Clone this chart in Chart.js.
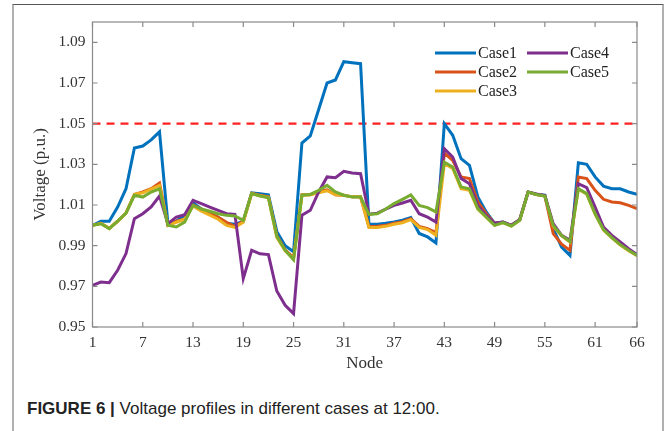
<!DOCTYPE html>
<html>
<head>
<meta charset="utf-8">
<script src="https://cdn.jsdelivr.net/npm/chart.js@4/dist/chart.umd.min.js"></script>
<style>
  html, body { margin: 0; padding: 0; background: #fff; }
  body { width: 665px; height: 431px; position: relative; overflow: hidden; }
  #frame {
    position: absolute; left: 12px; top: 4px; width: 648px; height: 440px;
    border-left: 2px solid #b0b0b0; border-right: 2px solid #b0b0b0; border-top: 1.5px solid #555;
  }
  #wrap { position: absolute; left: 0; top: 0; width: 665px; height: 385px; }
  #caption {
    position: absolute; left: 27px; top: 399px;
    font-family: "Liberation Sans", Arial, sans-serif; font-size: 17px; color: #222;
  }
  #caption b { font-weight: bold; }
</style>
</head>
<body>
<div id="frame"></div>
<div id="wrap"><canvas id="myChart" width="665" height="385"></canvas></div>
<div id="caption"><b>FIGURE 6 |</b> Voltage profiles in different cases at 12:00.</div>
<script>
// node numbers and tick positions
const nodes = Array.from({length: 66}, (_, i) => i + 1);
const xTicks = [1, 7, 13, 19, 25, 31, 37, 43, 49, 55, 61, 66];
const yTicks = [0.95, 0.97, 0.99, 1.01, 1.03, 1.05, 1.07, 1.09];
const limit = 1.05;

// voltage per node
const case1 = [1.000, 1.002, 1.002, 1.009, 1.018, 1.038, 1.039, 1.042, 1.046, 1.001,
  1.002, 1.005, 1.011, 1.008, 1.006, 1.004, 1.001, 1.0005, 1.002, 1.016,
  1.0155, 1.015, 0.997, 0.990, 0.987, 1.0405, 1.044, 1.057, 1.070, 1.0715,
  1.0805, 1.080, 1.0795, 1.0005, 1.0005, 1.001, 1.0017, 1.0025, 1.0038, 0.996,
  0.9943, 0.9913, 1.050, 1.0443, 1.0328, 1.0295, 1.014, 1.0066, 1.001, 1.0016,
  1.000, 1.0028, 1.0164, 1.0152, 1.0148, 0.9984, 0.9893, 0.9852, 1.0308, 1.030,
  1.0238, 1.0193, 1.018, 1.018, 1.0164, 1.0152];
const case2 = [1.000, 1.001, 0.9985, 1.002, 1.006, 1.0152, 1.0164, 1.018, 1.0208, 1.000,
  1.002, 1.003, 1.010, 1.008, 1.006, 1.004, 1.0015, 0.9995, 1.002, 1.0158,
  1.0148, 1.014, 0.995, 0.988, 0.984, 1.015, 1.015, 1.0165, 1.0175, 1.015,
  1.0148, 1.014, 1.014, 0.9993, 0.9995, 1.000, 1.001, 1.0018, 1.0032, 0.9995,
  0.9984, 0.9964, 1.0355, 1.032, 1.0238, 1.023, 1.0115, 1.0057, 1.001, 1.0015,
  1.000, 1.0027, 1.0164, 1.0152, 1.0145, 0.9959, 0.9907, 0.9877, 1.0238, 1.023,
  1.0172, 1.0128, 1.0115, 1.0111, 1.0098, 1.0082];
const case3 = [1.000, 1.001, 0.9985, 1.002, 1.006, 1.0152, 1.016, 1.0178, 1.0197, 1.000,
  1.0015, 1.003, 1.0095, 1.007, 1.005, 1.003, 1.000, 0.999, 1.0015, 1.0156,
  1.0145, 1.0138, 0.994, 0.9875, 0.9835, 1.0148, 1.015, 1.016, 1.017, 1.015,
  1.0148, 1.014, 1.014, 0.9989, 0.9989, 0.9995, 1.0005, 1.0013, 1.0028, 0.999,
  0.9979, 0.9951, 1.0303, 1.028, 1.018, 1.0172, 1.008, 1.004, 1.000, 1.0013,
  0.9997, 1.0025, 1.0164, 1.0152, 1.0144, 0.9995, 0.9948, 0.9918, 1.0178, 1.0153,
  1.0055, 0.9977, 0.9938, 0.9903, 0.9875, 0.985];
const case4 = [0.9705, 0.9721, 0.9718, 0.9779, 0.9861, 1.0033, 1.0057, 1.009, 1.0144, 1.0008,
  1.0041, 1.0052, 1.0123, 1.0107, 1.009, 1.0074, 1.0057, 1.0054, 0.9738, 0.9877,
  0.986, 0.9856, 0.9677, 0.9607, 0.9566, 1.005, 1.0074, 1.0164, 1.0238, 1.0234,
  1.0266, 1.0257, 1.0254, 1.0054, 1.006, 1.008, 1.0098, 1.011, 1.0123, 1.0057,
  1.004, 1.0016, 1.0377, 1.0336, 1.023, 1.0205, 1.0098, 1.0049, 1.001, 1.0016,
  1.000, 1.0028, 1.0164, 1.0154, 1.0146, 1.0008, 0.9951, 0.9926, 1.0205, 1.0185,
  1.009, 0.9992, 0.9951, 0.9918, 0.9885, 0.9856];
const case5 = [1.000, 1.0008, 0.9984, 1.0021, 1.006, 1.0148, 1.0139, 1.0164, 1.018, 1.000,
  0.9992, 1.0016, 1.0098, 1.008, 1.0069, 1.0057, 1.0049, 1.0046, 1.0025, 1.0156,
  1.0144, 1.0136, 0.9946, 0.9877, 0.9831, 1.0148, 1.0152, 1.0172, 1.0197, 1.0164,
  1.0148, 1.0139, 1.0139, 1.0054, 1.0057, 1.008, 1.0107, 1.0128, 1.015, 1.0098,
  1.0087, 1.0066, 1.0311, 1.0287, 1.0189, 1.018, 1.0082, 1.0041, 1.000, 1.0013,
  0.9997, 1.0025, 1.0164, 1.0152, 1.0144, 1.000, 0.995, 0.992, 1.018, 1.0156,
  1.0057, 0.9979, 0.994, 0.9905, 0.9877, 0.9852];

const seriesNames = ['Case1', 'Case2', 'Case3', 'Case4', 'Case5'];
const seriesColors = ['#0072BD', '#D95319', '#EDB120', '#7E2F8E', '#77AC30'];
const seriesData = [case1, case2, case3, case4, case5];

const serif = '"Liberation Serif", "Times New Roman", serif';
const axisColor = '#8a8a8a';

// inward tick marks + box on top/right, like the matlab axes
const boxTicks = {
  id: 'boxTicks',
  afterDraw(chart) {
    const {ctx, chartArea: a, scales: {x, y}} = chart;
    ctx.save();
    ctx.strokeStyle = axisColor;
    ctx.lineWidth = 1.2;
    ctx.strokeRect(a.left, a.top, a.right - a.left, a.bottom - a.top);
    ctx.beginPath();
    xTicks.forEach(t => {
      const px = x.getPixelForValue(t);
      ctx.moveTo(px, a.bottom); ctx.lineTo(px, a.bottom - 5);
      ctx.moveTo(px, a.top); ctx.lineTo(px, a.top + 5);
    });
    yTicks.forEach(t => {
      const py = y.getPixelForValue(t);
      ctx.moveTo(a.left, py); ctx.lineTo(a.left + 5, py);
      ctx.moveTo(a.right, py); ctx.lineTo(a.right - 5, py);
    });
    ctx.stroke();
    ctx.restore();
  }
};

// two-column legend inside the plot (Case1-3 left, Case4-5 right)
const boxLegend = {
  id: 'boxLegend',
  afterDraw(chart) {
    const ctx = chart.ctx;
    const cols = [435, 527];
    const rows = [53, 72, 91];
    ctx.save();
    ctx.font = '16px ' + serif;
    ctx.textBaseline = 'middle';
    ctx.fillStyle = '#222';
    seriesNames.forEach((name, i) => {
      const cx = cols[Math.floor(i / 3)];
      const cy = rows[i % 3];
      ctx.strokeStyle = seriesColors[i];
      ctx.lineWidth = 3;
      ctx.beginPath();
      ctx.moveTo(cx, cy); ctx.lineTo(cx + 41, cy);
      ctx.stroke();
      ctx.fillText(name, cx + 43, cy + 1);
    });
    ctx.restore();
  }
};

const datasets = seriesData.map((d, i) => ({
  label: seriesNames[i],
  data: d,
  borderColor: seriesColors[i],
  backgroundColor: seriesColors[i],
  borderWidth: 3,
  pointRadius: 0,
  tension: 0,
  order: 5 - i
}));
datasets.push({
  label: 'limit',
  data: nodes.map(() => limit),
  borderColor: '#ff2020',
  borderWidth: 2.2,
  borderDash: [8, 6],
  pointRadius: 0,
  order: 6
});

var ctx = document.getElementById('myChart').getContext('2d');
var chart = new Chart(ctx, {
  type: 'line',
  data: { labels: nodes, datasets: datasets },
  plugins: [boxTicks, boxLegend],
  options: {
    responsive: false,
    animation: false,
    layout: { padding: { top: 22, right: 28, left: 0, bottom: 0 } },
    plugins: { legend: { display: false }, tooltip: { enabled: false } },
    scales: {
      x: {
        type: 'linear',
        min: 1, max: 66,
        afterBuildTicks: s => { s.ticks = xTicks.map(v => ({value: v})); },
        afterFit: s => { s.height = 58; },
        grid: { display: false, drawTicks: false },
        border: { display: false },
        ticks: { color: '#333', font: { family: serif, size: 15.5 }, padding: 7, maxRotation: 0, autoSkip: false },
        title: { display: true, text: 'Node', color: '#333', font: { family: serif, size: 17 }, padding: { top: 0, bottom: 11 } }
      },
      y: {
        min: 0.95, max: 1.10,
        afterBuildTicks: s => { s.ticks = yTicks.map(v => ({value: v})); },
        afterFit: s => { s.width = 92.5; },
        grid: { display: false, drawTicks: false },
        border: { display: false },
        ticks: { color: '#333', font: { family: serif, size: 15.5 }, padding: 7, callback: v => v.toFixed(2) },
        title: { display: true, text: 'Voltage (p.u.)', color: '#333', font: { family: serif, size: 17 }, padding: { top: 30, bottom: 0 } }
      }
    }
  }
});
</script>
</body>
</html>
